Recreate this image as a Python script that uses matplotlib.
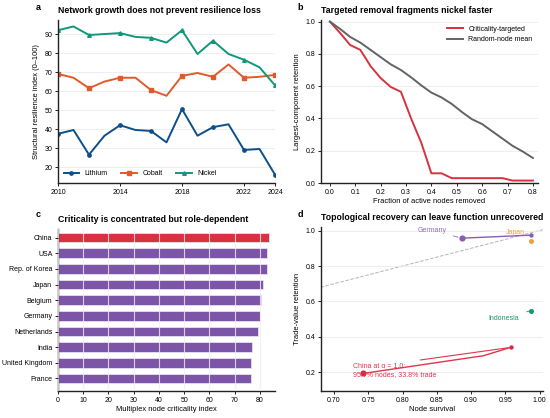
import numpy as np
import matplotlib
matplotlib.use("Agg")
import matplotlib.pyplot as plt

plt.rcParams["font.family"] = ["Liberation Sans", "DejaVu Sans"]
plt.rcParams["font.size"] = 5

# panel a
years = list(range(2010, 2025))
lithium = [37.5, 39.5, 26.5, 36.5, 42, 39.5, 39, 33, 50.5, 36.5, 41, 42.5, 29, 29.5, 16]
cobalt = [69, 67, 61.5, 65, 67, 67, 60.5, 57.5, 68, 69.5, 67.5, 74, 67, 67.5, 68.5]
nickel = [92, 94, 89.5, 90, 90.5, 88.5, 88, 85.5, 92, 79.5, 86.5, 79.5, 76.5, 72.5, 63]

# panel b
frac_removed = [0.0, 0.04, 0.08, 0.12, 0.16, 0.20, 0.24, 0.28, 0.32, 0.36, 0.40,
                0.44, 0.48, 0.52, 0.56, 0.60, 0.64, 0.68, 0.72, 0.76, 0.80]
targeted = [1.0, 0.93, 0.855, 0.825, 0.725, 0.65, 0.595, 0.565, 0.40, 0.25, 0.06,
            0.06, 0.03, 0.03, 0.03, 0.03, 0.03, 0.03, 0.015, 0.015, 0.015]
random_mean = [1.0, 0.955, 0.905, 0.87, 0.825, 0.78, 0.735, 0.70, 0.655, 0.605, 0.56,
               0.53, 0.49, 0.44, 0.395, 0.365, 0.32, 0.275, 0.23, 0.195, 0.155]

# panel c
countries = ["China", "USA", "Rep. of Korea", "Japan", "Belgium", "Germany",
             "Netherlands", "India", "United Kingdom", "France"]
criticality = [83.5, 83.0, 82.8, 81.3, 80.3, 80.0, 79.3, 76.7, 76.6, 76.6]

# panel d: trajectories (start -> end)
germany_x = [0.887, 0.987]
germany_y = [0.957, 0.974]
japan_x = [0.987]
japan_y = [0.939]
indonesia_x = [0.987]
indonesia_y = [0.548]
china_x = [0.7425, 0.918, 0.958]
china_y = [0.194, 0.294, 0.341]

c_li, c_co, c_ni = "#0d4f8b", "#e15a2b", "#12977a"
c_red, c_gray, c_purple = "#d6323f", "#636363", "#7d55a8"
c_orange = "#f0a23a"
spine_c = "#222222"

TICK = 5
LAB = 5.4
TITLE = 6.3


def style(ax, grid_axis="y"):
    for s in ["top", "right"]:
        ax.spines[s].set_visible(False)
    for s in ["left", "bottom"]:
        ax.spines[s].set_color(spine_c)
        ax.spines[s].set_linewidth(1.0)
    ax.grid(axis=grid_axis, color="#ebebeb", linewidth=0.6)
    ax.tick_params(length=2.2, width=0.7, color=spine_c, labelsize=TICK, pad=1.8)


fig = plt.figure(figsize=(5.5, 4.18), dpi=100)
W, H = 550, 418


def add_ax(l, t, r, b):
    return fig.add_axes([l / W, 1 - b / H, (r - l) / W, (b - t) / H])


ax_a = add_ax(58, 20, 275, 183)
ax_b = add_ax(321, 20, 538, 183)
ax_c = add_ax(58, 229, 275, 391)
ax_d = add_ax(321, 227, 543, 391)

# a
style(ax_a)
ax_a.set_axisbelow(True)
ax_a.plot(years, lithium, color=c_li, lw=1.4, marker="o", ms=2.4, markevery=2, label="Lithium")
ax_a.plot(years, cobalt, color=c_co, lw=1.4, marker="s", ms=2.2, markevery=2, label="Cobalt")
ax_a.plot(years, nickel, color=c_ni, lw=1.4, marker="^", ms=2.6, markevery=2, label="Nickel")
ax_a.set_xlim(2010, 2024)
ax_a.set_ylim(11.6, 97.4)
ax_a.set_xticks([2010, 2014, 2018, 2022, 2024])
ax_a.set_yticks([20, 30, 40, 50, 60, 70, 80, 90])
ax_a.set_ylabel("Structural resilience index (0\u2013100)", fontsize=LAB, labelpad=3)
ax_a.legend(loc="lower left", ncol=3, frameon=False, fontsize=TICK,
            handlelength=2.2, columnspacing=2.0, borderaxespad=0.4)
ax_a.set_title("Network growth does not prevent resilience loss", loc="left",
               fontsize=TITLE, fontweight="bold", pad=5)

# b
style(ax_b)
ax_b.plot(frac_removed, targeted, color=c_red, lw=1.4, label="Criticality-targeted")
ax_b.plot(frac_removed, random_mean, color=c_gray, lw=1.4, label="Random-node mean")
ax_b.set_xlim(-0.035, 0.82)
ax_b.set_ylim(0, 1.01)
ax_b.set_xticks(np.arange(0, 0.81, 0.1))
ax_b.set_yticks([0, 0.2, 0.4, 0.6, 0.8, 1.0])
ax_b.set_xlabel("Fraction of active nodes removed", fontsize=LAB, labelpad=2)
ax_b.set_ylabel("Largest-component retention", fontsize=LAB, labelpad=3)
ax_b.legend(loc="upper right", frameon=False, fontsize=TICK, handlelength=2.3,
            borderaxespad=0.4)
ax_b.set_title("Targeted removal fragments nickel faster", loc="left",
               fontsize=TITLE, fontweight="bold", pad=5)

# c
style(ax_c, grid_axis="x")
ax_c.set_axisbelow(False)
ax_c.grid(axis="x", color="#f0eef4", linewidth=0.8, alpha=0.8)
bar_colors = [c_red] + [c_purple] * (len(countries) - 1)
ax_c.barh(range(len(countries)), criticality, height=0.62, color=bar_colors,
          edgecolor="#e8e0ef", linewidth=0.6)
ax_c.set_yticks(range(len(countries)))
ax_c.set_yticklabels(countries)
ax_c.set_ylim(len(countries) - 0.2, -0.55)
ax_c.set_xlim(0, 86)
ax_c.set_xticks(range(0, 81, 10))
ax_c.set_xlabel("Multiplex node criticality index", fontsize=LAB, labelpad=2)
ax_c.set_title("Criticality is concentrated but role-dependent", loc="left",
               fontsize=TITLE, fontweight="bold", pad=5)

# d
style(ax_d)
ax_d.plot([0.6, 1.05], [0.6, 1.05], ls="--", color="#b5b5b5", lw=0.7, zorder=1)
ax_d.plot(germany_x, germany_y, color="#8b5cb5", lw=1.0, zorder=2)
ax_d.scatter(germany_x[:1], germany_y[:1], s=20, color="#8b5cb5", zorder=3, lw=0)
ax_d.scatter(germany_x[-1:], germany_y[-1:], s=10, color="#8b5cb5", zorder=3, lw=0)
ax_d.scatter(japan_x, japan_y, s=13, color=c_orange, zorder=3, lw=0)
ax_d.scatter(indonesia_x, indonesia_y, s=13, color="#17976f", zorder=3, lw=0)
ax_d.plot(china_x, china_y, color="#e0354d", lw=1.0, zorder=2)
ax_d.scatter(china_x[:1], china_y[:1], s=20, color="#d92a45", zorder=3, lw=0)
ax_d.scatter(china_x[-1:], china_y[-1:], s=10, color="#d92a45", zorder=3, lw=0)

ax_d.annotate("Germany", xy=(germany_x[0], germany_y[0]), xytext=(0.843, 1.0),
              color="#9368bd", fontsize=TICK, ha="center", va="center",
              arrowprops=dict(arrowstyle="-", color="#9368bd", lw=0.6, shrinkA=3, shrinkB=3))
ax_d.annotate("Japan", xy=(japan_x[0], japan_y[0]), xytext=(0.965, 0.99),
              color=c_orange, fontsize=TICK, ha="center", va="center",
              arrowprops=dict(arrowstyle="-", color=c_orange, lw=0.6, shrinkA=3, shrinkB=3))
ax_d.annotate("Indonesia", xy=(indonesia_x[0], indonesia_y[0]), xytext=(0.947, 0.504),
              color="#17976f", fontsize=TICK, ha="center", va="center",
              arrowprops=dict(arrowstyle="-", color="#17976f", lw=0.6, shrinkA=4, shrinkB=3))
ax_d.text(0.728, 0.21, "China at \u03b1 = 1.0:\n95.7% nodes, 33.8% trade",
          color="#e0354d", fontsize=TICK, ha="left", va="center", linespacing=1.25)
ax_d.annotate("", xy=(china_x[-1], china_y[-1]), xytext=(0.826, 0.27),
              arrowprops=dict(arrowstyle="-", color="#e0354d", lw=0.8, shrinkA=0, shrinkB=2))

ax_d.set_xlim(0.681, 1.005)
ax_d.set_ylim(0.095, 1.02)
ax_d.set_xticks([0.70, 0.75, 0.80, 0.85, 0.90, 0.95, 1.00])
ax_d.set_xticklabels(["0.70", "0.75", "0.80", "0.85", "0.90", "0.95", "1.00"])
ax_d.set_yticks([0.2, 0.4, 0.6, 0.8, 1.0])
ax_d.set_xlabel("Node survival", fontsize=LAB, labelpad=2)
ax_d.set_ylabel("Trade-value retention", fontsize=LAB, labelpad=3)
ax_d.set_title("Topological recovery can leave function unrecovered", loc="left",
               fontsize=TITLE, fontweight="bold", pad=5)

for lbl, (x, y) in zip("abcd", [(38, 8), (300, 8), (38, 215), (300, 215)]):
    fig.text(x / W, 1 - y / H, lbl, fontsize=6.5, fontweight="bold", ha="center", va="center")

fig.savefig("out.png", dpi=100)
